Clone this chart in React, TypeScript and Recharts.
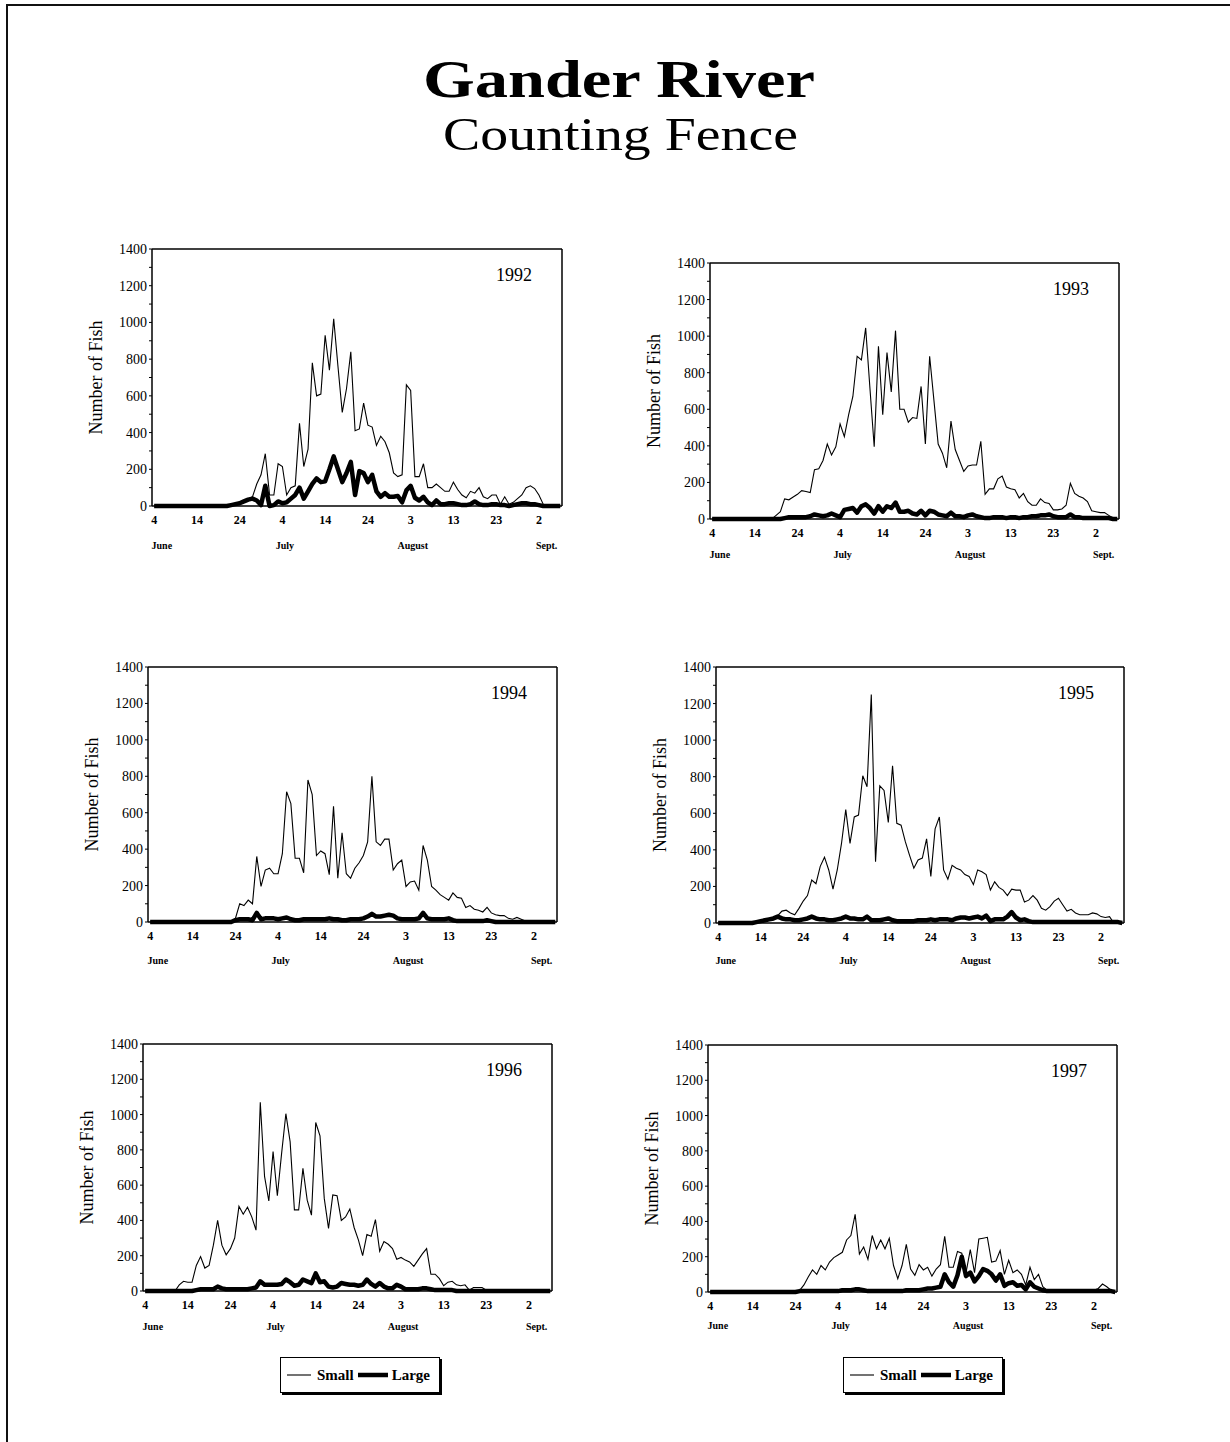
import React from "react"
import { LineChart, Line, XAxis, YAxis, ReferenceLine, Legend } from "recharts"

const SERIF = "'Liberation Serif', 'Times New Roman', serif"

// day 0 = June 4
const days = Array.from({ length: 96 }, (_, i) => i)
const dayTicks = [0, 10, 20, 30, 40, 50, 60, 70, 80, 90]
const dayTickLabels = ["4", "14", "24", "4", "14", "24", "3", "13", "23", "2"]
const monthTicks = [1.8, 30.6, 60.5, 91.8]
const monthLabels = ["June", "July", "August", "Sept."]
const yTicks = [0, 100, 200, 300, 400, 500, 600, 700, 800, 900, 1000, 1100, 1200, 1300, 1400]
const seriesNames = ["Small", "Large"]
const titleLines = ["Gander River", "Counting Fence"]
const years = [1992, 1993, 1994, 1995, 1996, 1997]

const small1992 = [
  0, 0, 0, 0, 0, 0, 0, 0, 0, 0,
  0, 0, 0, 0, 0, 0, 0, 0, 5, 10,
  15, 25, 40, 50, 120, 170, 285, 60, 60, 230,
  215, 60, 100, 110, 450, 215, 310, 780, 600, 610,
  930, 740, 1020, 760, 510, 640, 840, 410, 420, 560,
  440, 430, 330, 380, 350, 290, 180, 160, 170, 660,
  630, 160, 160, 230, 100, 100, 120, 100, 80, 80,
  130, 90, 60, 45, 80, 70, 100, 50, 40, 60,
  60, 10, 50, 10, 20, 40, 60, 100, 110, 95,
  60, 10, 0, 0, 0, 0,
]
const large1992 = [
  0, 0, 0, 0, 0, 0, 0, 0, 0, 0,
  0, 0, 0, 0, 0, 0, 0, 0, 5, 10,
  15, 25, 35, 40, 30, 5, 110, 0, 5, 25,
  15, 20, 40, 60, 100, 40, 80, 120, 150, 130,
  135, 200, 270, 200, 130, 180, 240, 60, 190, 180,
  130, 170, 80, 50, 70, 50, 50, 55, 20, 85,
  110, 45, 30, 50, 20, 5, 30, 10, 10, 15,
  15, 10, 5, 5, 10, 25, 10, 5, 5, 10,
  10, 5, 5, 0, 5, 10, 15, 15, 10, 10,
  5, 0, 0, 0, 0, 0,
]

const small1993 = [
  0, 0, 0, 0, 0, 0, 0, 0, 0, 0,
  0, 0, 0, 0, 0, 20, 40, 110, 105, 120,
  135, 155, 150, 145, 270, 275, 320, 410, 350, 395,
  520, 450, 570, 670, 890, 870, 1045, 715, 395, 945,
  570, 910, 695, 1030, 600, 600, 530, 555, 550, 725,
  410, 890, 650, 410, 360, 280, 535, 380, 320, 260,
  290, 295, 295, 425, 135, 165, 165, 220, 235, 175,
  165, 160, 115, 140, 95, 75, 75, 110, 90, 85,
  50, 50, 55, 75, 195, 140, 125, 115, 95, 45,
  40, 35, 35, 20, 5, 0,
]
const large1993 = [
  0, 0, 0, 0, 0, 0, 0, 0, 0, 0,
  0, 0, 0, 0, 0, 0, 0, 5, 10, 10,
  10, 10, 10, 15, 25, 20, 15, 20, 30, 20,
  10, 50, 55, 60, 35, 70, 80, 60, 30, 70,
  40, 70, 60, 90, 40, 40, 45, 30, 25, 45,
  20, 45, 40, 25, 20, 15, 35, 15, 15, 10,
  20, 25, 15, 10, 5, 5, 10, 10, 10, 5,
  10, 10, 5, 10, 10, 15, 15, 20, 20, 25,
  15, 10, 10, 10, 25, 10, 10, 5, 5, 5,
  5, 5, 5, 5, 0, 0,
]

const small1994 = [
  0, 0, 0, 0, 0, 0, 0, 0, 0, 0,
  0, 0, 0, 0, 0, 0, 0, 0, 0, 0,
  20, 100, 90, 120, 100, 360, 195, 285, 295, 265,
  265, 375, 715, 650, 350, 350, 270, 780, 700, 365,
  390, 375, 260, 635, 240, 490, 265, 240, 295, 325,
  365, 440, 800, 440, 420, 455, 455, 285, 320, 340,
  195, 220, 225, 175, 420, 340, 195, 175, 150, 135,
  120, 160, 135, 130, 80, 90, 70, 65, 55, 80,
  50, 40, 35, 35, 20, 15, 25, 15, 5, 0,
  0, 0, 0, 0, 0, 0,
]
const large1994 = [
  0, 0, 0, 0, 0, 0, 0, 0, 0, 0,
  0, 0, 0, 0, 0, 0, 0, 0, 0, 0,
  10, 15, 15, 15, 10, 50, 15, 20, 20, 20,
  15, 20, 25, 15, 10, 10, 15, 15, 15, 15,
  15, 15, 20, 15, 15, 10, 10, 15, 15, 15,
  20, 30, 45, 30, 30, 35, 40, 35, 20, 15,
  15, 15, 15, 20, 50, 20, 15, 15, 15, 15,
  20, 10, 5, 5, 5, 5, 5, 5, 5, 10,
  5, 0, 0, 0, 0, 0, 0, 0, 0, 0,
  0, 0, 0, 0, 0, 0,
]

const small1995 = [
  0, 0, 0, 0, 0, 0, 0, 0, 0, 5,
  10, 15, 20, 30, 40, 65, 70, 55, 45, 80,
  120, 150, 235, 215, 310, 360, 290, 185, 290, 435,
  620, 435, 580, 590, 805, 745, 1250, 335, 750, 725,
  550, 860, 545, 535, 445, 370, 300, 345, 355, 460,
  255, 515, 580, 290, 240, 315, 300, 290, 265, 255,
  210, 290, 280, 265, 180, 225, 195, 180, 150, 185,
  180, 180, 115, 125, 150, 125, 80, 70, 90, 120,
  135, 100, 65, 75, 55, 45, 45, 45, 55, 50,
  35, 30, 35, 0, 0, 0,
]
const large1995 = [
  0, 0, 0, 0, 0, 0, 0, 0, 0, 5,
  10, 15, 20, 25, 35, 25, 20, 20, 15, 15,
  20, 25, 35, 25, 20, 20, 15, 15, 20, 25,
  35, 25, 25, 20, 20, 35, 15, 15, 15, 20,
  25, 15, 10, 10, 10, 10, 10, 15, 15, 15,
  20, 15, 20, 20, 20, 15, 25, 30, 30, 25,
  30, 35, 25, 40, 10, 20, 20, 20, 35, 60,
  30, 15, 20, 10, 5, 5, 5, 5, 5, 5,
  5, 5, 5, 5, 5, 5, 5, 5, 5, 5,
  5, 5, 5, 5, 5, 0,
]

const small1996 = [
  0, 0, 0, 0, 0, 0, 0, 0, 35, 55,
  50, 50, 145, 195, 130, 145, 260, 400, 260, 205,
  240, 300, 480, 435, 475, 420, 345, 1070, 650, 510,
  790, 540, 780, 1005, 845, 460, 460, 695, 515, 430,
  955, 880, 525, 355, 545, 540, 400, 420, 465, 360,
  290, 200, 320, 310, 405, 225, 280, 265, 240, 180,
  190, 175, 165, 140, 175, 210, 240, 95, 95, 70,
  30, 50, 55, 35, 30, 35, 5, 20, 20, 20,
  5, 0, 0, 0, 0, 0, 0, 0, 0, 0,
  0, 0, 0, 0, 0, 0,
]
const large1996 = [
  0, 0, 0, 0, 0, 0, 0, 0, 0, 0,
  0, 0, 5, 10, 10, 10, 10, 25, 15, 10,
  10, 10, 10, 10, 10, 15, 20, 55, 35, 35,
  35, 35, 40, 65, 50, 30, 35, 65, 55, 45,
  100, 50, 55, 25, 20, 25, 45, 40, 35, 35,
  30, 35, 65, 40, 25, 45, 25, 15, 15, 35,
  25, 10, 10, 10, 10, 15, 15, 10, 5, 5,
  5, 5, 5, 0, 0, 0, 0, 0, 0, 0,
  0, 0, 0, 0, 0, 0, 0, 0, 0, 0,
  0, 0, 0, 0, 0, 0,
]

const small1997 = [
  0, 0, 0, 0, 0, 0, 0, 0, 0, 0,
  0, 0, 0, 0, 0, 0, 0, 0, 0, 0,
  0, 10, 40, 85, 125, 100, 150, 125, 170, 195,
  210, 225, 295, 320, 440, 215, 255, 185, 320, 245,
  295, 245, 305, 150, 75, 150, 270, 130, 95, 155,
  125, 140, 90, 130, 155, 315, 140, 140, 230, 220,
  110, 240, 110, 300, 305, 310, 170, 175, 235, 100,
  180, 110, 125, 100, 40, 140, 70, 100, 30, 10,
  10, 10, 10, 5, 5, 5, 5, 5, 10, 10,
  10, 20, 45, 30, 10, 0,
]
const large1997 = [
  0, 0, 0, 0, 0, 0, 0, 0, 0, 0,
  0, 0, 0, 0, 0, 0, 0, 0, 0, 0,
  0, 5, 5, 5, 5, 5, 5, 5, 5, 5,
  5, 10, 10, 10, 15, 15, 10, 5, 5, 5,
  5, 5, 5, 5, 5, 5, 10, 10, 10, 10,
  15, 20, 20, 25, 30, 100, 55, 30, 95, 200,
  90, 110, 60, 90, 130, 120, 100, 65, 100, 35,
  50, 55, 35, 40, 15, 55, 30, 20, 10, 5,
  5, 5, 5, 5, 5, 5, 5, 5, 5, 5,
  5, 5, 5, 5, 5, 0,
]

const smallByYear = [small1992, small1993, small1994, small1995, small1996, small1997]
const largeByYear = [large1992, large1993, large1994, large1995, large1996, large1997]

// plot-area corners on the page for each panel
const panelLayout = [
  { left: 152, top: 249, right: 562, bottom: 506, monthGap: 37 },
  { left: 710, top: 263, right: 1119, bottom: 519, monthGap: 33 },
  { left: 148, top: 667, right: 557, bottom: 922, monthGap: 36 },
  { left: 716, top: 667, right: 1124, bottom: 923, monthGap: 35 },
  { left: 143, top: 1044, right: 552, bottom: 1291, monthGap: 33, legendX: 280, legendY: 1357 },
  { left: 708, top: 1045, right: 1117, bottom: 1292, monthGap: 31, legendX: 843, legendY: 1357 },
]

const ML = 75
const MT = 10
const MR = 12
const H1 = 24
const H2 = 26
const X_DOMAIN: [number, number] = [-0.5, 95.4]
const lineWidths = [1.1, 4.5]

function LegendBox({ payload }: any) {
  // keep the order Small, Large as in the printed key
  const items = seriesNames
    .map((n) => (payload || []).find((p: any) => p.value === n))
    .filter(Boolean)
  return (
    <div
      style={{
        display: "flex",
        alignItems: "center",
        width: 160,
        height: 36,
        boxSizing: "border-box",
        border: "1.5px solid #000",
        boxShadow: "2px 2px 0 #000",
        background: "#fff",
        paddingLeft: 6,
        fontFamily: SERIF,
        fontSize: 15,
        fontWeight: 700,
        color: "#000",
      }}
    >
      {items.map((p: any, i: number) => (
        <span key={p.value} style={{ display: "flex", alignItems: "center" }}>
          <svg width={i ? 30 : 24} height={10} style={{ marginLeft: i ? 4 : 0 }}>
            <line x1={0} y1={5} x2={i ? 30 : 24} y2={5} stroke="#000" strokeWidth={lineWidths[i]} />
          </svg>
          <span style={{ marginLeft: i ? 4 : 6 }}>{p.value}</span>
        </span>
      ))}
    </div>
  )
}

function Panel({ idx }: { idx: number }) {
  const cfg: any = panelLayout[idx]
  const year = years[idx]
  const small = smallByYear[idx]
  const large = largeByYear[idx]
  const plotW = cfg.right - cfg.left
  const plotH = cfg.bottom - cfg.top
  const extra = cfg.legendX ? 70 : 0
  const chartLeft = cfg.left - ML
  const chartTop = cfg.top - MT
  const rows = days.map((d, i) => ({ day: d, small: small[i], large: large[i] }))

  return (
    <div style={{ position: "absolute", left: chartLeft, top: chartTop }}>
      <LineChart
        width={ML + plotW + MR}
        height={MT + plotH + H1 + H2 + extra}
        data={rows}
        margin={{ top: MT, right: MR, left: 0, bottom: extra }}
      >
        <XAxis
          xAxisId="day"
          dataKey="day"
          type="number"
          domain={X_DOMAIN}
          allowDataOverflow
          ticks={dayTicks}
          interval={0}
          tickFormatter={(v) => dayTickLabels[dayTicks.indexOf(v)]}
          tickLine={false}
          tickSize={8}
          tickMargin={1}
          height={H1}
          axisLine={{ stroke: "#000", strokeWidth: 1.5 }}
          tick={{ fontSize: 12, fontWeight: 700, fill: "#000", fontFamily: SERIF }}
        />
        <XAxis
          xAxisId="month"
          dataKey="day"
          type="number"
          domain={X_DOMAIN}
          allowDataOverflow
          ticks={monthTicks}
          interval={0}
          tickFormatter={(v) => monthLabels[monthTicks.indexOf(v)]}
          axisLine={false}
          tickLine={false}
          tickSize={cfg.monthGap - 25}
          tickMargin={0}
          height={H2}
          tick={{ fontSize: 10, fontWeight: 700, fill: "#000", fontFamily: SERIF }}
        />
        <YAxis
          type="number"
          domain={[0, 1400]}
          ticks={yTicks}
          interval={0}
          tickFormatter={(v) => (v % 200 === 0 ? String(v) : "")}
          width={ML}
          tickSize={3}
          tickMargin={2}
          axisLine={{ stroke: "#000", strokeWidth: 1.5 }}
          tickLine={{ stroke: "#000" }}
          tick={{ fontSize: 14, fill: "#000", fontFamily: SERIF }}
          label={(p: any) => (
            <text
              x={p.viewBox.x + p.viewBox.width - 56}
              y={p.viewBox.y + p.viewBox.height / 2}
              transform={`rotate(-90, ${p.viewBox.x + p.viewBox.width - 56}, ${p.viewBox.y + p.viewBox.height / 2})`}
              textAnchor="middle"
              dominantBaseline="central"
              fontSize={18}
              fontFamily={SERIF}
              fill="#000"
            >
              Number of Fish
            </text>
          )}
        />
        <ReferenceLine
          xAxisId="day"
          y={1400}
          stroke="#000"
          strokeWidth={1.5}
          label={(p: any) => (
            <text
              x={p.viewBox.x + p.viewBox.width - 48}
              y={p.viewBox.y + 32}
              textAnchor="middle"
              fontSize={18}
              fontFamily={SERIF}
              fill="#000"
            >
              {year}
            </text>
          )}
        />
        <ReferenceLine xAxisId="day" x={X_DOMAIN[1]} stroke="#000" strokeWidth={1.5} />
        <Line
          xAxisId="day"
          name={seriesNames[0]}
          dataKey="small"
          type="linear"
          stroke="#000"
          strokeWidth={lineWidths[0]}
          dot={false}
          isAnimationActive={false}
        />
        <Line
          xAxisId="day"
          name={seriesNames[1]}
          dataKey="large"
          type="linear"
          stroke="#000"
          strokeWidth={lineWidths[1]}
          strokeLinejoin="round"
          dot={false}
          isAnimationActive={false}
        />
        {cfg.legendX ? (
          <Legend
            layout="horizontal"
            align="center"
            verticalAlign="middle"
            content={<LegendBox />}
            wrapperStyle={{ left: cfg.legendX - chartLeft, top: cfg.legendY - chartTop, width: "auto", height: "auto" }}
          />
        ) : null}
      </LineChart>
    </div>
  )
}

export default function App() {
  return (
    <div
      style={{
        position: "absolute",
        left: 0,
        top: 0,
        width: 1230,
        height: 1442,
        background: "#fff",
        fontFamily: SERIF,
        overflow: "hidden",
      }}
    >
      <div
        style={{
          position: "absolute",
          left: 6,
          top: 4,
          width: 1230,
          height: 1442,
          borderTop: "2px solid #111",
          borderLeft: "2px solid #111",
        }}
      />
      <svg width={1230} height={200} style={{ position: "absolute", left: 0, top: 0 }}>
        <text x={423} y={97} fontSize={52} fontWeight={700} fontFamily={SERIF} textLength={392} lengthAdjust="spacingAndGlyphs" fill="#000">
          {titleLines[0]}
        </text>
        <text x={443} y={150} fontSize={47} fontFamily={SERIF} textLength={355} lengthAdjust="spacingAndGlyphs" fill="#000">
          {titleLines[1]}
        </text>
      </svg>
      {years.map((y, i) => (
        <Panel key={y} idx={i} />
      ))}
    </div>
  )
}
